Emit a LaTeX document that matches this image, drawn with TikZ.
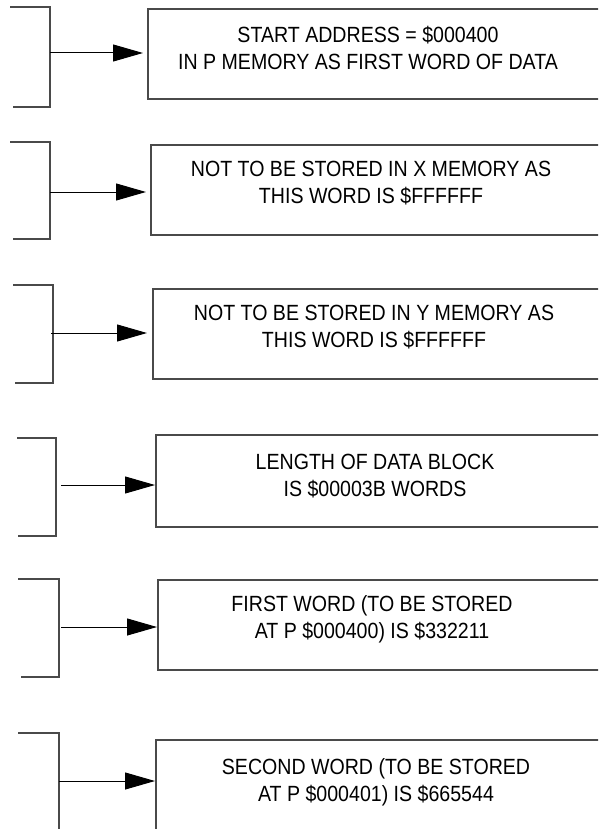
\documentclass[tikz,border=0pt]{standalone}
\usepackage{fontspec}
\setmainfont{Liberation Sans}
\newfontfamily\notefont[FakeStretch=0.89]{Liberation Sans}
\usetikzlibrary{arrows.meta}
\definecolor{rulegray}{HTML}{4A4A4A}
\tikzset{
  bracket/.style={draw=rulegray, line width=1.3pt},
  memblock/.style={draw=rulegray, line width=1.6pt, minimum width=480pt,
    anchor=north west, inner sep=0pt},
  note/.style={align=center, inner sep=0pt,
    font=\notefont\fontsize{22}{27}\selectfont},
  feed/.style={draw=black, line width=1pt, -{Triangle[length=30pt,width=17pt]}},
}
\begin{document}
\begin{tikzpicture}[x=1pt, y=-1pt]
  \useasboundingbox (0,0) rectangle (598,829);
  \clip (0,0) rectangle (598,829);
  % start address
  \draw[bracket] (10,7) -- (50,7) -- (50,107) -- (13,107);
  \coordinate (src1) at (50,53);
  \node[memblock, minimum height=90pt] (box1) at (147,8) {};
  \node[note] (txt1) at (368,48) {START ADDRESS = \$000400\\IN P MEMORY AS FIRST WORD OF DATA};
  \draw[feed, shorten >=4pt] (src1) -- (src1 -| box1.west);
  % x memory
  \draw[bracket] (10,142) -- (50,142) -- (50,239) -- (13,239);
  \coordinate (src2) at (50,192);
  \node[memblock, minimum height=90pt] (box2) at (150,144) {};
  \node[note] (txt2) at (371,183) {NOT TO BE STORED IN X MEMORY AS\\THIS WORD IS \$FFFFFF};
  \draw[feed, shorten >=4pt] (src2) -- (src2 -| box2.west);
  % y memory
  \draw[bracket] (13,285) -- (53,285) -- (53,383) -- (15,383);
  \coordinate (src3) at (51,333);
  \node[memblock, minimum height=90pt] (box3) at (152,288) {};
  \node[note] (txt3) at (374,327) {NOT TO BE STORED IN Y MEMORY AS\\THIS WORD IS \$FFFFFF};
  \draw[feed, shorten >=5pt] (src3) -- (src3 -| box3.west);
  % block length
  \draw[bracket] (17,438) -- (56,438) -- (56,536) -- (18,536);
  \coordinate (src4) at (61,485);
  \node[memblock, minimum height=92pt] (box4) at (155,434) {};
  \node[note] (txt4) at (375,476) {LENGTH OF DATA BLOCK\\IS \$00003B WORDS};
  \draw[feed] (src4) -- (src4 -| box4.west);
  % first word
  \draw[bracket] (18,579) -- (59,579) -- (59,677) -- (21,677);
  \coordinate (src5) at (61,627);
  \node[memblock, minimum height=90pt] (box5) at (157,579) {};
  \node[note] (txt5) at (372,619) {FIRST WORD (TO BE STORED\\AT P \$000400) IS \$332211};
  \draw[feed] (src5) -- (src5 -| box5.west);
  % second word
  \draw[bracket] (18,733) -- (59,733) -- (59,840);
  \coordinate (src6) at (59,781);
  \node[memblock, minimum height=120pt] (box6) at (155,739) {};
  \node[note] (txt6) at (376,782) {SECOND WORD (TO BE STORED\\AT P \$000401) IS \$665544};
  \draw[feed] (src6) -- (src6 -| box6.west);
\end{tikzpicture}
\end{document}
